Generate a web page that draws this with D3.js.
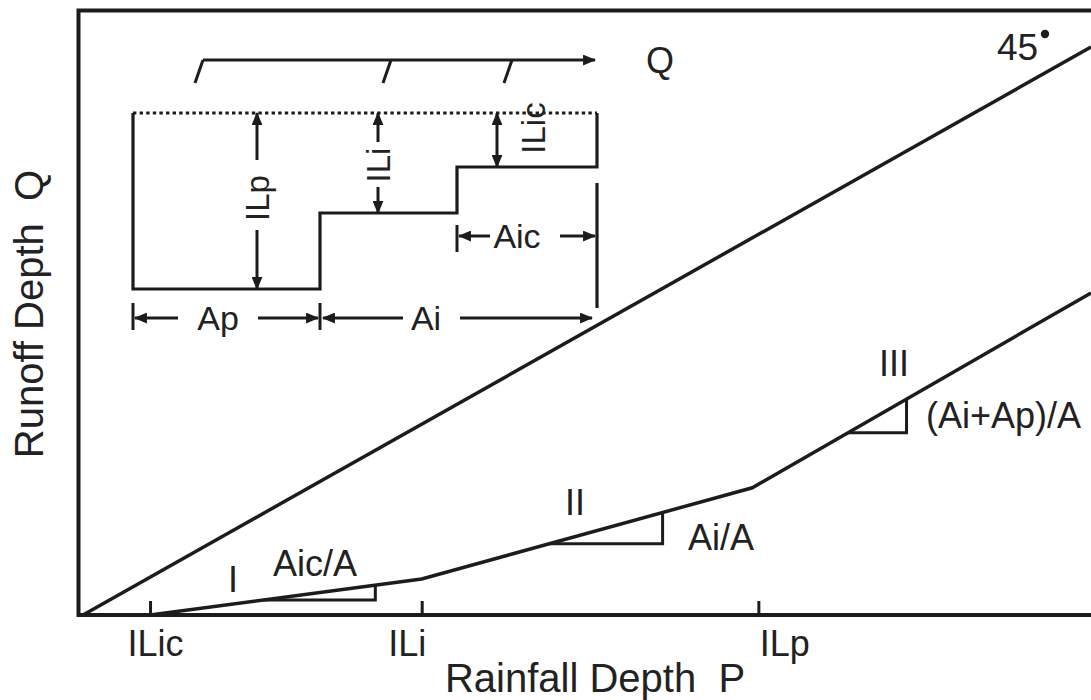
<!DOCTYPE html>
<html><head><meta charset="utf-8">
<script src="https://cdn.jsdelivr.net/npm/d3@7"></script>
<style>
body{margin:0;background:#fff}
svg{display:block}
text{font-family:"Liberation Sans",Arial,Helvetica,sans-serif;fill:#222;white-space:pre}
</style>
</head><body>
<svg id="c" width="1091" height="700"></svg>
<script>
// ---------- main chart data ----------
const line45P = [0, 100];
const line45Q = [0, 100];
const runoffP = [6.65, 33.6, 66.4, 100];
const runoffQ = [0, 6.34, 22.4, 56.7];
const tickLabels = ["ILic", "ILi", "ILp"];
const tickValues = [6.65, 33.6, 67.0];
const segmentLabels = ["I", "II", "III"];
const slopeLabels = ["Aic/A", "Ai/A", "(Ai+Ap)/A"];
const triStartP = [17.9, 46.3, 75.9];
const triEndP = [29.0, 57.5, 81.7];
const xTitle = "Rainfall Depth  P";
const yTitle = "Runoff Depth  Q";
const angleLabel = "45";

// ---------- inset (schematic) data ----------
const zoneLabels = ["Ap", "Ai", "Aic"];
const zoneEnds = [187, 324, 464];          // cumulative area boundaries
const depthLabels = ["ILp", "ILi", "ILic"];
const depths = [176, 100, 54];             // initial losses per zone
const qTicks = [70, 258, 379];
const qEnd = 462;

// ---------- layout ----------
const W = 1091, H = 700;
const svg = d3.select("#c");
const ink = "#1c1c1c";
const x = d3.scaleLinear().domain([0, 100]).range([83, 1091]);
const y = d3.scaleLinear().domain([0, 100]).range([615, 47]);

svg.append("defs").append("marker")
  .attr("id", "ah").attr("viewBox", "0 0 12 10").attr("refX", 11).attr("refY", 5)
  .attr("markerWidth", 13).attr("markerHeight", 11).attr("markerUnits", "userSpaceOnUse")
  .attr("orient", "auto")
  .append("path").attr("d", "M0,0 L12,5 L0,10 Z").attr("fill", ink);

// frame (left, top, bottom)
svg.append("path")
  .attr("d", `M${W + 5},10.5 H78.5 V${y(0)} H${W + 5}`)
  .attr("fill", "none").attr("stroke", ink).attr("stroke-width", 4);

// axis ticks
const axis = d3.axisBottom(x).tickValues(tickValues)
  .tickFormat((d, i) => tickLabels[i]).tickSizeInner(-14).tickSizeOuter(0).tickPadding(15);
const gx = svg.append("g").attr("transform", `translate(0,${y(0)})`).call(axis);
gx.select(".domain").remove();
gx.selectAll(".tick line").attr("stroke", ink).attr("stroke-width", 3);
const tickDx = [5, -15, 26];
gx.selectAll(".tick text").attr("font-size", 36).attr("font-family", null)
  .attr("fill", "#222").attr("x", (d, i) => tickDx[i]);

// 45 degree line
const line = d3.line().x(d => x(d[0])).y(d => y(d[1]));
svg.append("path").attr("d", line(line45P.map((p, i) => [p, line45Q[i]])))
  .attr("fill", "none").attr("stroke", ink).attr("stroke-width", 3.5);

// runoff curve
svg.append("path").attr("d", line(runoffP.map((p, i) => [p, runoffQ[i]])))
  .attr("fill", "none").attr("stroke", ink).attr("stroke-width", 3.5).attr("stroke-linejoin", "miter");

// slope triangles
const curve = d3.scaleLinear().domain(runoffP).range(runoffQ);
triStartP.forEach((s, i) => {
  const e = triEndP[i];
  svg.append("path")
    .attr("d", `M${x(s)},${y(curve(s))} H${x(e)} V${y(curve(e))}`)
    .attr("fill", "none").attr("stroke", ink).attr("stroke-width", 3);
});

// segment / slope labels
const romanPos = [[233, 592], [575, 515], [894, 376]];
segmentLabels.forEach((t, i) => {
  svg.append("text").attr("x", romanPos[i][0]).attr("y", romanPos[i][1])
    .attr("text-anchor", "middle").attr("font-size", 36).text(t);
});
const slopePos = [[315, 576, "middle"], [721, 550, "middle"], [926, 428, "start"]];
slopeLabels.forEach((t, i) => {
  svg.append("text").attr("x", slopePos[i][0]).attr("y", slopePos[i][1])
    .attr("text-anchor", slopePos[i][2]).attr("font-size", 36).text(t);
});

// 45 degree label
const t45 = svg.append("text").attr("x", 997).attr("y", 60).attr("font-size", 37).text(angleLabel);
svg.append("circle").attr("cx", 1045).attr("cy", 34).attr("r", 4.2).attr("fill", ink);

// axis titles
svg.append("text").attr("x", 595).attr("y", 692).attr("text-anchor", "middle")
  .attr("font-size", 40).text(xTitle);
svg.append("text").attr("transform", "translate(43,314) rotate(-90)")
  .attr("text-anchor", "middle").attr("font-size", 40).text(yTitle);

// ---------- inset ----------
const ix = d3.scaleLinear().domain([0, 464]).range([133, 597]);
const iy = d3.scaleLinear().domain([0, 176]).range([113, 289]);
const g = svg.append("g");
const seg = (x1, y1, x2, y2, opts = {}) => {
  const l = g.append("line").attr("x1", ix(x1)).attr("y1", iy(y1)).attr("x2", ix(x2)).attr("y2", iy(y2))
    .attr("stroke", ink).attr("stroke-width", opts.w || 3);
  if (opts.arrow) l.attr("marker-end", "url(#ah)");
  if (opts.dash) l.attr("stroke-dasharray", opts.dash);
  return l;
};

// dotted ponding level
seg(0, 0, zoneEnds[2], 0, {dash: "3.4,3.2", w: 3.2});
// step profile
const stepPts = [[0, 0], [0, depths[0]], [zoneEnds[0], depths[0]], [zoneEnds[0], depths[1]],
  [zoneEnds[1], depths[1]], [zoneEnds[1], depths[2]], [zoneEnds[2], depths[2]], [zoneEnds[2], 0]];
g.append("path").attr("d", d3.line().x(d => ix(d[0])).y(d => iy(d[1]))(stepPts))
  .attr("fill", "none").attr("stroke", ink).attr("stroke-width", 3.2);
// right boundary line
seg(zoneEnds[2], 70, zoneEnds[2], 195, {w: 3.2});

// depth arrows
const dArrowX = [124, 245, 364];
const dGap = [[47, 117], [29, 74], null];
const dLabelPos = [[124, 85], [245, 52], [400, 15]];
depths.forEach((d, i) => {
  const gx0 = dArrowX[i];
  if (dGap[i]) {
    seg(gx0, dGap[i][0], gx0, 0, {arrow: true});
    seg(gx0, dGap[i][1], gx0, d, {arrow: true});
  } else {
    const m = d / 2;
    seg(gx0, m, gx0, 0, {arrow: true});
    seg(gx0, m, gx0, d, {arrow: true});
  }
  g.append("text").attr("transform", `translate(${ix(dLabelPos[i][0])},${iy(dLabelPos[i][1])}) rotate(-90)`)
    .attr("text-anchor", "middle").attr("dy", "0.36em").attr("font-size", 33).text(depthLabels[i]);
});

// area dimension lines
const rowY = 205, rowAic = 123;
seg(0, 190, 0, 217);
seg(zoneEnds[0], 190, zoneEnds[0], 217);
seg(45, rowY, 2, rowY, {arrow: true});
seg(125, rowY, 185, rowY, {arrow: true});
seg(270, rowY, 190, rowY, {arrow: true});
seg(327, rowY, 459, rowY, {arrow: true});
g.append("text").attr("x", ix(85)).attr("y", iy(rowY)).attr("dy", "0.36em")
  .attr("text-anchor", "middle").attr("font-size", 34).text(zoneLabels[0]);
g.append("text").attr("x", ix(293)).attr("y", iy(rowY)).attr("dy", "0.36em")
  .attr("text-anchor", "middle").attr("font-size", 34).text(zoneLabels[1]);
seg(zoneEnds[1], 112, zoneEnds[1], 139);
seg(357, rowAic, 326, rowAic, {arrow: true});
seg(427, rowAic, 462, rowAic, {arrow: true});
g.append("text").attr("x", ix(384)).attr("y", iy(rowAic)).attr("dy", "0.36em")
  .attr("text-anchor", "middle").attr("font-size", 34).text(zoneLabels[2]);

// Q arrow on top
const qY = -53, slashDy = 23, slashDx = -8;
seg(qTicks[0], qY, qEnd, qY, {arrow: true});
qTicks.forEach(q => seg(q, qY, q + slashDx, qY + slashDy));
g.append("text").attr("x", ix(527)).attr("y", iy(qY)).attr("dy", "0.36em")
  .attr("text-anchor", "middle").attr("font-size", 36).text("Q");
</script>
</body></html>
